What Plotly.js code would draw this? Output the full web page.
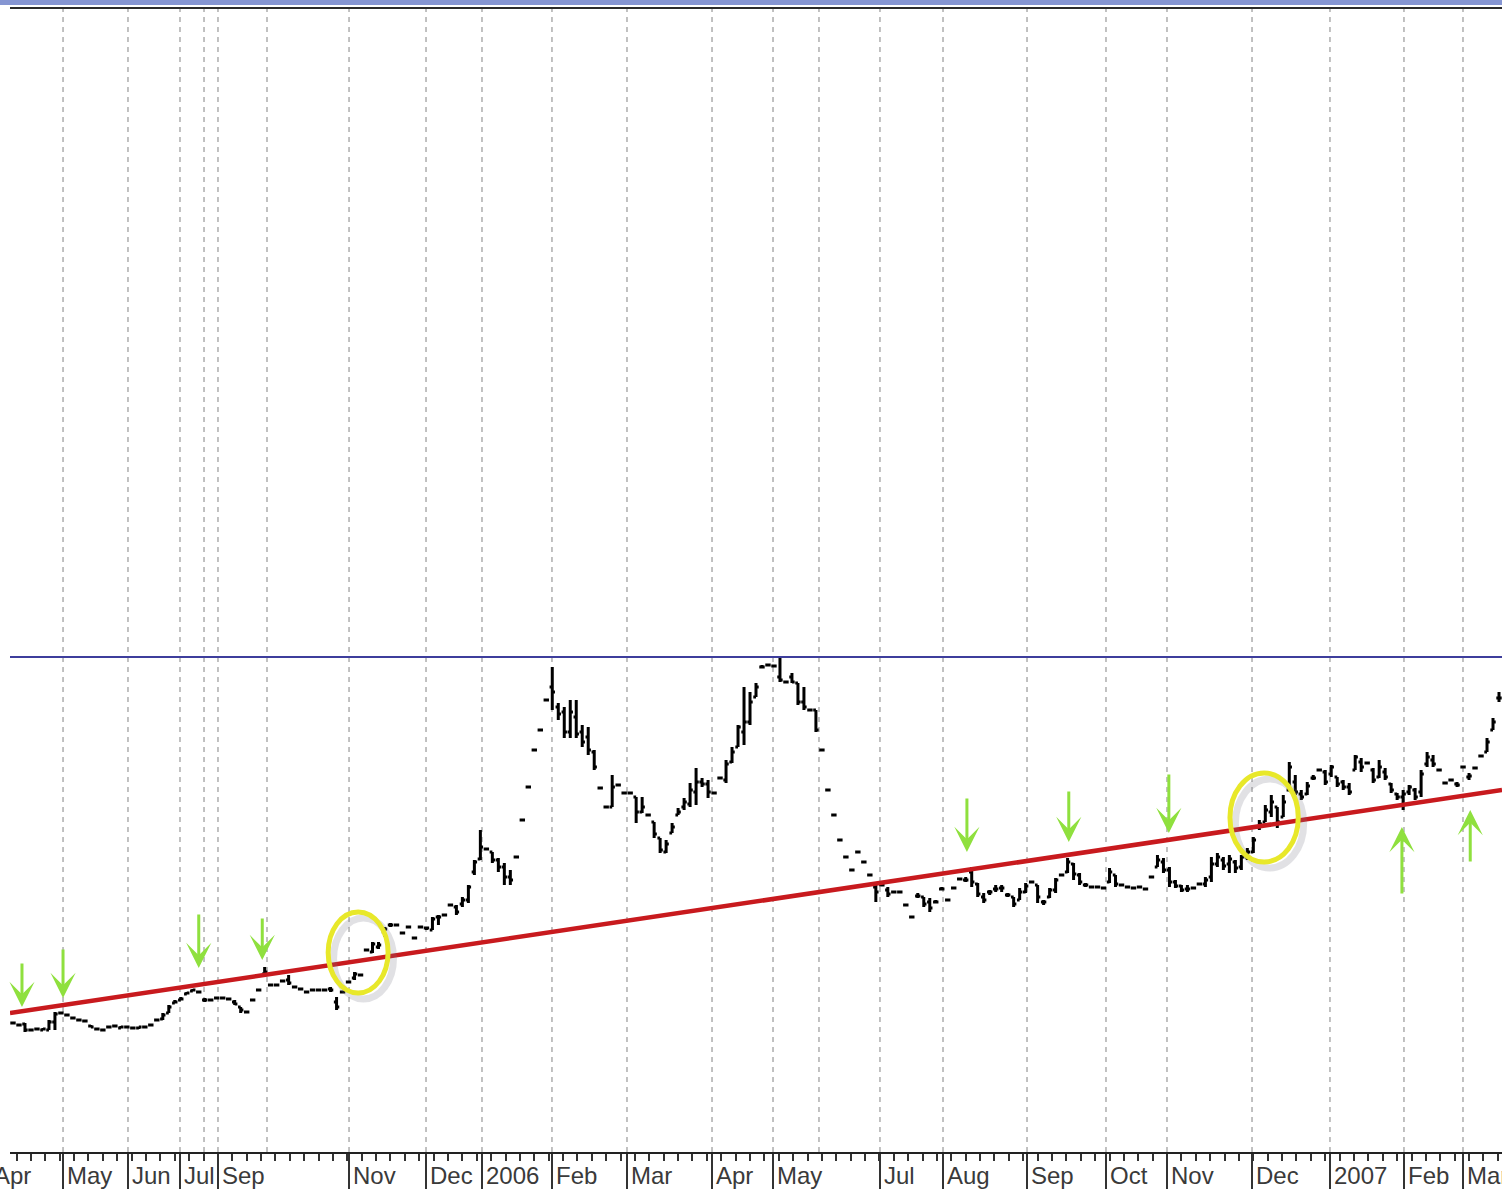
<!DOCTYPE html>
<html>
<head>
<meta charset="utf-8">
<script src="https://cdn.plot.ly/plotly-3.0.1.min.js"></script>
<style>html,body{margin:0;padding:0;background:#fff;}#chart{width:1502px;height:1189px;}</style>
</head>
<body>
<div id="chart"></div>
<script>
// ---- price bars (one bar per trading session) ----
const openP = [
1.29,1.27,1.28,1.22,1.23,1.22,1.22,1.30,1.39,1.37,
1.34,1.32,1.31,1.26,1.23,1.22,1.25,1.26,1.24,1.25,
1.24,1.24,1.25,1.27,1.32,1.33,1.39,1.49,1.52,1.58,
1.61,1.60,1.52,1.52,1.54,1.54,1.53,1.50,1.45,1.40,
1.52,1.62,1.78,1.67,1.67,1.71,1.72,1.65,1.63,1.60,
1.62,1.62,1.62,1.63,1.50,1.60,1.70,1.74,1.77,2.02,
2.00,2.05,2.20,2.27,2.27,2.19,2.25,2.14,2.25,2.24,
2.22,2.35,2.37,2.47,2.45,2.48,2.52,2.80,2.93,3.03,
3.00,2.92,2.85,2.75,2.95,3.32,3.65,4.02,4.22,4.52,
4.65,4.45,4.40,4.20,4.35,4.20,4.15,4.00,3.64,3.45,
3.45,3.67,3.59,3.59,3.55,3.40,3.37,3.30,3.14,3.00,
3.19,3.37,3.45,3.48,3.60,3.70,3.68,3.59,3.74,3.72,
3.90,4.05,4.20,4.30,4.55,4.85,4.87,4.86,4.75,4.70,
4.75,4.69,4.50,4.42,4.42,4.02,3.62,3.37,3.12,2.95,
2.82,3.00,2.90,2.77,2.65,2.67,2.62,2.60,2.60,2.47,
2.35,2.56,2.55,2.50,2.50,2.63,2.52,2.64,2.73,2.72,
2.80,2.68,2.55,2.60,2.63,2.64,2.57,2.55,2.52,2.60,
2.70,2.67,2.50,2.55,2.62,2.77,2.80,2.88,2.77,2.67,
2.65,2.65,2.64,2.70,2.77,2.67,2.65,2.64,2.65,2.63,
2.75,2.85,2.90,2.82,2.70,2.66,2.63,2.64,2.68,2.68,
2.75,2.88,2.92,2.88,2.90,2.85,2.95,3.00,3.25,3.30,
3.40,3.45,3.35,3.62,3.70,3.58,3.58,3.74,3.82,3.80,
3.78,3.75,3.70,3.65,3.82,3.90,3.89,3.82,3.75,3.80,
3.68,3.58,3.55,3.60,3.62,3.60,3.88,3.92,3.82,3.69,
3.72,3.68,3.85,3.75,3.84,3.96,4.00,4.22,4.54
];
const highP = [
1.30,1.28,1.29,1.23,1.24,1.24,1.32,1.40,1.40,1.38,
1.35,1.33,1.32,1.27,1.24,1.23,1.26,1.27,1.26,1.26,
1.25,1.25,1.26,1.28,1.33,1.39,1.47,1.52,1.55,1.60,
1.63,1.61,1.54,1.53,1.55,1.55,1.54,1.52,1.45,1.41,
1.53,1.63,1.85,1.68,1.68,1.72,1.77,1.66,1.64,1.61,
1.63,1.63,1.63,1.65,1.55,1.61,1.71,1.80,1.78,2.03,
2.10,2.10,2.25,2.29,2.28,2.20,2.26,2.15,2.26,2.25,
2.35,2.37,2.38,2.48,2.47,2.55,2.67,2.92,3.22,3.04,
3.00,2.94,2.89,2.82,2.96,3.33,3.66,4.03,4.23,4.53,
4.85,4.49,4.45,4.52,4.52,4.27,4.25,4.02,3.65,3.46,
3.77,3.68,3.60,3.60,3.55,3.55,3.38,3.30,3.14,3.12,
3.29,3.44,3.54,3.69,3.84,3.74,3.72,3.60,3.75,3.92,
4.05,4.27,4.65,4.60,4.69,4.87,4.88,4.87,4.95,4.71,
4.79,4.69,4.65,4.43,4.42,4.03,3.63,3.38,3.13,2.96,
2.83,3.01,2.91,2.78,2.67,2.68,2.65,2.61,2.61,2.48,
2.36,2.59,2.55,2.54,2.52,2.65,2.53,2.65,2.74,2.75,
2.85,2.69,2.59,2.62,2.67,2.67,2.59,2.55,2.64,2.69,
2.71,2.67,2.52,2.64,2.74,2.78,2.94,2.89,2.79,2.69,
2.66,2.66,2.65,2.84,2.77,2.68,2.66,2.65,2.66,2.64,
2.76,2.97,2.94,2.85,2.72,2.67,2.67,2.65,2.69,2.75,
2.95,2.99,2.95,2.97,2.92,2.97,3.04,3.15,3.32,3.47,
3.57,3.45,3.57,3.90,3.77,3.62,3.70,3.77,3.83,3.82,
3.87,3.75,3.72,3.69,3.97,3.94,3.90,3.84,3.92,3.84,
3.69,3.59,3.62,3.67,3.64,3.82,4.00,3.97,3.83,3.70,
3.73,3.70,3.86,3.79,3.85,3.97,4.14,4.34,4.60
];
const lowP = [
1.28,1.26,1.20,1.21,1.22,1.22,1.22,1.22,1.38,1.36,
1.33,1.31,1.30,1.25,1.22,1.21,1.24,1.25,1.24,1.24,
1.23,1.23,1.24,1.26,1.31,1.32,1.39,1.49,1.52,1.58,
1.61,1.59,1.50,1.51,1.54,1.54,1.52,1.47,1.39,1.39,
1.51,1.61,1.77,1.66,1.66,1.70,1.67,1.64,1.62,1.59,
1.61,1.61,1.61,1.60,1.42,1.59,1.69,1.72,1.76,2.01,
1.99,2.03,2.15,2.25,2.26,2.18,2.24,2.13,2.24,2.22,
2.22,2.27,2.36,2.46,2.37,2.45,2.49,2.77,2.92,3.02,
2.89,2.80,2.67,2.67,2.94,3.31,3.64,4.01,4.21,4.51,
4.42,4.32,4.14,4.14,4.14,4.05,3.97,3.82,3.63,3.44,
3.45,3.66,3.58,3.58,3.29,3.39,3.36,3.14,2.99,2.99,
3.19,3.37,3.42,3.45,3.47,3.65,3.54,3.58,3.73,3.69,
3.89,4.05,4.07,4.27,4.55,4.84,4.86,4.85,4.70,4.69,
4.69,4.47,4.42,4.41,4.20,4.01,3.61,3.36,3.11,2.94,
2.81,2.99,2.89,2.76,2.50,2.66,2.55,2.59,2.59,2.46,
2.34,2.54,2.45,2.40,2.49,2.62,2.51,2.63,2.72,2.70,
2.65,2.55,2.49,2.57,2.60,2.60,2.55,2.45,2.52,2.59,
2.69,2.49,2.47,2.54,2.59,2.76,2.79,2.72,2.67,2.65,
2.64,2.64,2.63,2.69,2.65,2.66,2.64,2.63,2.64,2.62,
2.74,2.85,2.79,2.65,2.64,2.60,2.60,2.63,2.67,2.65,
2.70,2.85,2.82,2.79,2.79,2.82,2.92,2.99,3.22,3.30,
3.35,3.24,3.35,3.62,3.57,3.52,3.57,3.72,3.81,3.67,
3.75,3.65,3.62,3.57,3.82,3.80,3.88,3.69,3.74,3.72,
3.59,3.52,3.42,3.57,3.52,3.55,3.85,3.85,3.81,3.68,
3.71,3.65,3.84,3.72,3.83,3.95,4.00,4.22,4.50
];
const closeP = [
1.29,1.27,1.22,1.22,1.23,1.23,1.30,1.38,1.39,1.37,
1.34,1.32,1.31,1.25,1.23,1.22,1.25,1.26,1.25,1.25,
1.24,1.25,1.25,1.27,1.32,1.37,1.45,1.50,1.53,1.59,
1.62,1.60,1.52,1.52,1.54,1.54,1.53,1.48,1.42,1.40,
1.52,1.62,1.80,1.67,1.67,1.71,1.69,1.65,1.63,1.60,
1.62,1.62,1.62,1.62,1.45,1.60,1.70,1.78,1.77,2.02,
2.08,2.07,2.23,2.27,2.27,2.19,2.25,2.14,2.25,2.24,
2.33,2.35,2.37,2.47,2.40,2.52,2.65,2.90,3.05,3.03,
2.92,2.85,2.75,2.72,2.95,3.32,3.65,4.02,4.22,4.52,
4.60,4.38,4.20,4.40,4.18,4.10,4.02,3.85,3.64,3.45,
3.65,3.67,3.59,3.59,3.40,3.45,3.37,3.18,3.02,3.08,
3.25,3.40,3.50,3.62,3.70,3.68,3.60,3.59,3.74,3.88,
4.00,4.25,4.30,4.50,4.65,4.85,4.87,4.86,4.72,4.70,
4.70,4.50,4.45,4.42,4.22,4.02,3.62,3.37,3.12,2.95,
2.82,3.00,2.90,2.77,2.60,2.67,2.58,2.60,2.60,2.47,
2.35,2.56,2.48,2.44,2.50,2.63,2.52,2.64,2.73,2.72,
2.70,2.58,2.52,2.60,2.63,2.64,2.57,2.48,2.60,2.66,
2.70,2.55,2.50,2.62,2.72,2.77,2.90,2.78,2.70,2.67,
2.65,2.65,2.64,2.80,2.68,2.67,2.65,2.64,2.65,2.63,
2.75,2.92,2.82,2.70,2.66,2.62,2.63,2.64,2.68,2.72,
2.88,2.95,2.86,2.93,2.84,2.95,3.00,3.12,3.28,3.42,
3.50,3.30,3.50,3.85,3.60,3.55,3.66,3.74,3.82,3.70,
3.85,3.68,3.65,3.60,3.95,3.85,3.89,3.72,3.85,3.75,
3.62,3.55,3.58,3.65,3.55,3.78,3.95,3.88,3.82,3.69,
3.72,3.67,3.85,3.76,3.84,3.96,4.10,4.30,4.54
];

// ---- axis: month boundaries (bar index) and their labels ----
const monthPos  = [-3.8, 8.35, 19.19, 27.87, 34.21, 56.08, 68.93, 78.27, 89.95, 102.47, 116.66, 126.84, 144.69, 155.21, 169.23, 182.41, 192.59, 206.78, 219.79, 232.14, 241.99];
const monthText = ["Apr","May","Jun","Jul","Sep","Nov","Dec","2006","Feb","Mar","Apr","May","Jul","Aug","Sep","Oct","Nov","Dec","2007","Feb","Mar"];
const extraGrid = [31.88, 42.39, 134.51];

// ---- drawn study lines ----
const trendX = [-0.5, 248.5];
const trendY = [1.39, 3.62];
const resistanceLevel = 4.95;

// ---- marks drawn on the chart (arrow tips, circled breakouts) ----
const downArrows = [[1.5,1.45,45],[8.35,1.54,50],[31.0,1.84,55],[41.6,1.92,43],[159.2,3.00,55],[176.2,3.10,52],[192.9,3.19,60]];
const upArrows   = [[231.8,3.25,68],[243.2,3.42,53]];
const circles    = [[52.6,62.6,1.59,2.40],[203.1,214.5,2.90,3.79]];

const days = openP.map((_, i) => i);
const X0 = -0.5, X1 = days.length - 0.5;
const toPaper = v => (v - X0) / (X1 - X0);

const traces = [
  {type:'ohlc', x:days, open:openP, high:highP, low:lowP, close:closeP,
   increasing:{line:{color:'#000', width:3}}, decreasing:{line:{color:'#000', width:3}},
   tickwidth:0.45, hoverinfo:'skip', showlegend:false},
  {type:'scatter', mode:'lines', x:trendX, y:trendY, line:{color:'#c81a1e', width:4.5}, hoverinfo:'skip', showlegend:false},
  {type:'scatter', mode:'lines', x:[X0, X1], y:[resistanceLevel, resistanceLevel], line:{color:'#3e3e9c', width:2}, hoverinfo:'skip', showlegend:false}
];

const shapes = [];
monthPos.filter(v => v > X0).concat(extraGrid).forEach(v => shapes.push({
  type:'line', xref:'x', yref:'paper', x0:v, x1:v, y0:0, y1:1, layer:'below',
  line:{color:'#a0a0a0', width:1.3, dash:'5px,5px'}
}));
// top frame
shapes.push({type:'rect', xref:'paper', yref:'paper', x0:-0.01, x1:1.01, y0:1 + 3/1144, y1:1 + 9/1144, fillcolor:'#8595d2', line:{width:0}});
shapes.push({type:'line', xref:'paper', yref:'paper', x0:0, x1:1, y0:1, y1:1, line:{color:'#2a2a2a', width:2}});
// circled breakouts (soft shadow + yellow ring)
circles.forEach(c => {
  shapes.push({type:'circle', xref:'x', yref:'y', x0:c[0]+0.9, x1:c[1]+0.9, y0:c[2]-0.06, y1:c[3]-0.06, layer:'above',
    line:{color:'rgba(120,120,130,0.22)', width:7}});
  shapes.push({type:'circle', xref:'x', yref:'y', x0:c[0], x1:c[1], y0:c[2], y1:c[3], layer:'above',
    line:{color:'#e8e82a', width:5}});
});

const annotations = [];
monthPos.forEach((v, i) => annotations.push({
  x:toPaper(v), xref:'paper', y:-0.0066, yref:'paper', xanchor:'left', yanchor:'top', xshift:2,
  text:monthText[i], showarrow:false, font:{family:'Arial, "Liberation Sans", sans-serif', size:24, color:'#3a3a3a'}
}));
downArrows.forEach(a => annotations.push({
  x:a[0], y:a[1], xref:'x', yref:'y', ax:0, ay:-a[2], text:'', showarrow:true,
  arrowhead:3, arrowsize:1.4, arrowwidth:3, arrowcolor:'#8fe03e'
}));
upArrows.forEach(a => annotations.push({
  x:a[0], y:a[1], xref:'x', yref:'y', ax:0, ay:a[2], text:'', showarrow:true,
  arrowhead:3, arrowsize:1.4, arrowwidth:3, arrowcolor:'#8fe03e'
}));

// weekly minor ticks along the time axis
const minorTicks = [];
for (let v = 0.6; v < X1; v += 2.4) minorTicks.push(v);

const layout = {
  width:1502, height:1189,
  margin:{l:10, r:0, t:8, b:37, pad:0},
  paper_bgcolor:'#fff', plot_bgcolor:'#fff',
  showlegend:false,
  xaxis:{
    range:[X0, X1], showgrid:false, zeroline:false,
    showline:true, linecolor:'#222', linewidth:2,
    tickmode:'array', tickvals:monthPos, ticks:'outside', ticklen:37, tickwidth:2, tickcolor:'#333',
    showticklabels:false,
    minor:{tickmode:'array', tickvals:minorTicks, ticks:'outside', ticklen:7, tickwidth:2, tickcolor:'#333', showgrid:false},
    rangeslider:{visible:false}, fixedrange:true
  },
  yaxis:{range:[0, 11.44], visible:false, fixedrange:true},
  shapes:shapes,
  annotations:annotations
};

Plotly.newPlot('chart', traces, layout, {displayModeBar:false, staticPlot:true});
</script>
</body>
</html>
